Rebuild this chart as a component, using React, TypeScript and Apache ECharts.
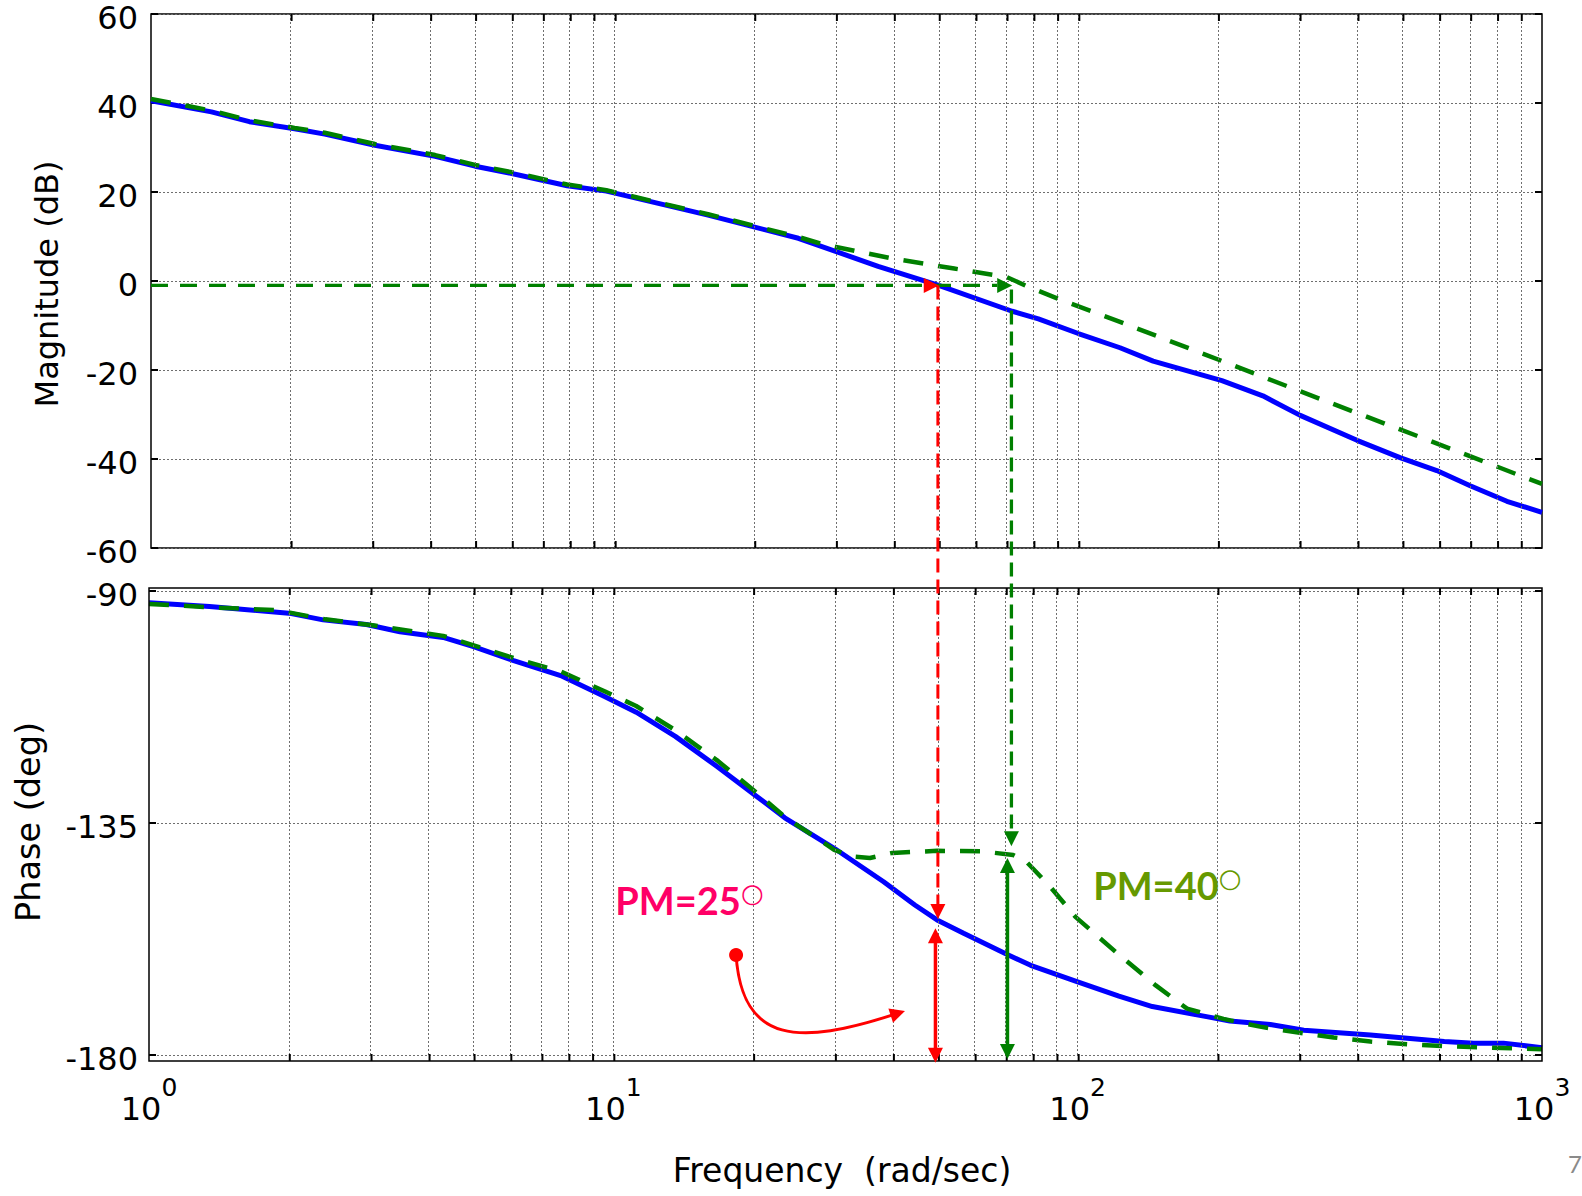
import React, { useEffect, useRef } from "react";
import * as echarts from "echarts";

const FONT = "'DejaVu Sans', 'Liberation Sans', Arial, sans-serif";
const PM_FONT = "Lato, 'Open Sans', sans-serif";

// ---- axes ----
const FREQ_MIN = 1;
const FREQ_MAX = 1000;
const FREQ_GRID = [2, 3, 4, 5, 6, 7, 8, 9, 10, 20, 30, 40, 50, 60, 70, 80, 90, 100, 200, 300, 400, 500, 600, 700, 800, 900];
const MAG_MIN = -60;
const MAG_MAX = 60;
const MAG_STEP = 20;
const PHASE_MIN = -180;
const PHASE_MAX = -90;
const PHASE_STEP = 45;

// ---- data: [frequency rad/s, value] ----
const magUncompensated: [number, number][] = [
  [1, 40.5], [1.35, 38.0], [1.63, 35.8], [2.04, 34.2], [2.37, 33.0], [3.04, 30.5], [4.1, 28.0],
  [5.0, 25.8], [6.1, 24.0], [7.9, 21.4], [9.6, 20.2], [15.9, 14.8], [24.9, 9.6], [37, 3.3],
  [50, -1.0], [72, -6.8], [82, -8.5], [100, -11.8], [123, -15.0], [145, -18.0], [204, -22.4],
  [250, -25.8], [301, -30.2], [399, -35.8], [494, -39.7], [593, -42.6], [700, -46.0], [840, -49.5],
  [1000, -52.0],
];
const magCompensated: [number, number][] = [
  [1, 40.9], [1.35, 38.3], [1.63, 36.1], [2.04, 34.4], [2.37, 33.3], [3.04, 30.8], [4.1, 28.3],
  [5.0, 26.1], [6.1, 24.3], [7.9, 21.7], [9.6, 20.4], [15.9, 15.0], [24.9, 9.9], [28, 8.3],
  [40, 5.0], [54, 2.8], [70, 0.9], [78, -1.3], [92, -4.3], [123, -9.2], [175, -15.3], [288, -24.0],
  [346, -27.2], [476, -32.7], [747, -40.5], [926, -44.3], [1000, -45.6],
];
const phaseUncompensated: [number, number][] = [
  [1, -92.3], [1.35, -93.0], [2.0, -94.3], [2.37, -95.6], [2.94, -96.5], [3.47, -97.9], [4.3, -99.0],
  [5.0, -100.8], [6.1, -103.5], [7.7, -106.4], [9.6, -110.5], [11.2, -113.5], [13.6, -118.2],
  [16.7, -124.0], [20.4, -129.9], [23.4, -134.0], [29.9, -139.9], [38.2, -146.4], [44.6, -150.9],
  [49.8, -153.8], [56.8, -156.4], [70.9, -160.6], [79.2, -162.6], [100, -165.8], [122.7, -168.6],
  [144.8, -170.6], [190.7, -172.6], [212.8, -173.4], [260, -174.1], [307, -175.2], [427, -176.1],
  [616, -177.4], [713, -177.7], [826, -177.7], [1000, -178.6],
];
const phaseCompensated: [number, number][] = [
  [1, -92.5], [1.38, -93.2], [1.88, -93.7], [2.4, -95.5], [3.0, -96.6], [4.3, -98.7], [6.1, -103.0],
  [7.7, -105.6], [9.6, -109.5], [11.2, -112.3], [13.6, -117.0], [16.7, -122.8], [20.4, -129.2],
  [23.4, -133.8], [29.9, -140.2], [32.7, -141.5], [35.7, -141.8], [39.9, -140.8], [49.8, -140.4],
  [62.1, -140.5], [72.6, -141.2], [77.5, -142.5], [86.6, -147.0], [98.9, -153.2], [120.7, -160.0],
  [147.3, -166.5], [172, -171.0], [206, -173.0], [247, -174.5], [296, -175.6], [356, -176.6],
  [427, -177.4], [513, -177.9], [616, -178.3], [740, -178.5], [1000, -178.9],
];

// ---- annotations (data coordinates) ----
const CROSSOVER_DB = -1;
const WC_UNCOMP = 50;
const WC_COMP = 72;
const PHASE_AT_WC_UNCOMP = -153.6;
const PHASE_AT_WC_COMP = -139.5;
const PM_BAR_UNCOMP = { w: 49.4, top: -155.4, bottom: -181.5 };
const PM_BAR_COMP = { w: 70.6, top: -141.8, bottom: -180.8 };
const CURVE_ARROW: [number, number][] = [[18.38, -160.6], [18.92, -178.05], [25.27, -178.05], [42.47, -171.46]];
const PM_LABELS = [
  { text: "PM=25", w: 10.1, deg: -149.9, color: "#FF0066" },
  { text: "PM=40", w: 108, deg: -147.0, color: "#669900" },
];

const BLUE = "#0000FF";
const GREEN = "#008000";
const RED = "#FF0000";
const GRID_LINE = { type: [2, 2] as number[], color: "#6f6f6f", width: 1 };
const TICK_STYLE = { color: "#000", width: 2 };

export default function App() {
  const ref = useRef<HTMLDivElement>(null);

  useEffect(() => {
    const chart = echarts.init(ref.current!, null, { renderer: "svg" });

    const gridMarkLine = {
      silent: true,
      symbol: "none",
      label: { show: false },
      lineStyle: GRID_LINE,
      data: FREQ_GRID.map((f) => ({ xAxis: f })),
    };

    const tickSeries = (idx: number, yTop: number, yBottom: number, topOff: number, botOff: number) => ({
      name: `ticks-${idx}`,
      type: "custom",
      xAxisIndex: idx,
      yAxisIndex: idx * 2,
      silent: true,
      clip: false,
      z: 6,
      data: FREQ_GRID.map((f) => [f]),
      renderItem: (_p: any, api: any) => {
        const t = api.coord([api.value(0), yTop]);
        const b = api.coord([api.value(0), yBottom]);
        return {
          type: "group",
          children: [
            { type: "line", shape: { x1: t[0] + 1, y1: t[1] - topOff, x2: t[0] + 1, y2: t[1] - topOff + 7 }, style: { stroke: "#000", lineWidth: 2 } },
            { type: "line", shape: { x1: b[0] + 1, y1: b[1] + botOff, x2: b[0] + 1, y2: b[1] + botOff - 7 }, style: { stroke: "#000", lineWidth: 2 } },
          ],
        };
      },
    });

    const rightAxis = (grid: number, min: number, max: number, step: number) => ({
      type: "value", gridIndex: grid, position: "right", min, max, interval: step,
      axisLine: { show: false }, axisLabel: { show: false }, splitLine: { show: false },
      axisTick: { show: true, inside: true, length: 7, lineStyle: TICK_STYLE },
    });

    const option: any = {
      animation: false,
      backgroundColor: "#ffffff",
      textStyle: { fontFamily: FONT },
      grid: [
        { left: 151, right: 40, top: 14, height: 534, show: true, borderColor: "#000", borderWidth: 1.5, backgroundColor: "transparent" },
        { left: 149, right: 40, top: 591, height: 464, show: false },
      ],
      xAxis: [
        {
          type: "log", logBase: 10, min: FREQ_MIN, max: FREQ_MAX, gridIndex: 0,
          axisLine: { show: false }, axisTick: { show: false }, axisLabel: { show: false }, splitLine: { show: false },
        },
        {
          type: "log", logBase: 10, min: FREQ_MIN, max: FREQ_MAX, gridIndex: 1,
          axisLine: { show: false }, axisTick: { show: false }, splitLine: { show: false },
          axisLabel: {
            margin: 20,
            showMinLabel: true,
            showMaxLabel: true,
            formatter: (v: number) => `{b|10}{s|${Math.round(Math.log10(v))}}`,
            rich: {
              b: { fontSize: 32, fontFamily: FONT, color: "#000", lineHeight: 50, verticalAlign: "bottom" },
              s: { fontSize: 25, fontFamily: FONT, color: "#000", lineHeight: 30, verticalAlign: "top" },
            },
          },
        },
      ],
      yAxis: [
        {
          type: "value", gridIndex: 0, min: MAG_MIN, max: MAG_MAX, interval: MAG_STEP,
          axisLine: { show: false },
          axisTick: { show: true, inside: true, length: 7, lineStyle: TICK_STYLE },
          axisLabel: { margin: 13, fontSize: 32, color: "#000", fontFamily: FONT, verticalAlign: "top", lineHeight: 8 },
          splitLine: { show: true, lineStyle: GRID_LINE },
        },
        rightAxis(0, MAG_MIN, MAG_MAX, MAG_STEP),
        {
          type: "value", gridIndex: 1, min: PHASE_MIN, max: PHASE_MAX, interval: PHASE_STEP,
          axisLine: { show: false },
          axisTick: { show: true, inside: true, length: 7, lineStyle: TICK_STYLE },
          axisLabel: { margin: 11, fontSize: 32, color: "#000", fontFamily: FONT, verticalAlign: "top", lineHeight: 8 },
          splitLine: { show: true, lineStyle: GRID_LINE },
        },
        rightAxis(1, PHASE_MIN, PHASE_MAX, PHASE_STEP),
      ],
      series: [
        { name: "grid-top", type: "line", xAxisIndex: 0, yAxisIndex: 0, data: [], z: 1, silent: true, markLine: gridMarkLine },
        { name: "grid-bottom", type: "line", xAxisIndex: 1, yAxisIndex: 2, data: [], z: 1, silent: true, markLine: gridMarkLine },
        tickSeries(0, MAG_MAX, MAG_MIN, 0, 0),
        tickSeries(1, PHASE_MAX, PHASE_MIN, 3, 6),
        {
          name: "Magnitude (uncompensated)", type: "line", xAxisIndex: 0, yAxisIndex: 0, data: magUncompensated,
          showSymbol: false, symbol: "none", lineStyle: { color: BLUE, width: 5 }, z: 3,
        },
        {
          name: "Magnitude (compensated)", type: "line", xAxisIndex: 0, yAxisIndex: 0, data: magCompensated,
          showSymbol: false, symbol: "none", lineStyle: { color: GREEN, width: 4.5, type: [20, 15] }, z: 4,
        },
        {
          name: "Phase (uncompensated)", type: "line", xAxisIndex: 1, yAxisIndex: 2, data: phaseUncompensated,
          showSymbol: false, symbol: "none", lineStyle: { color: BLUE, width: 5 }, z: 3,
        },
        {
          name: "Phase (compensated)", type: "line", xAxisIndex: 1, yAxisIndex: 2, data: phaseCompensated,
          showSymbol: false, symbol: "none", lineStyle: { color: GREEN, width: 4.5, type: [20, 15] }, z: 4,
        },
      ],
    };
    chart.setOption(option);

    const g0 = (w: number, v: number) => chart.convertToPixel({ gridIndex: 0 }, [w, v]) as number[];
    const g1 = (w: number, v: number) => chart.convertToPixel({ gridIndex: 1 }, [w, v]) as number[];

    const HEAD_LEN = 15;
    const HEAD_HALF = 7.5;
    const line = (a: number[], b: number[], color: string, width: number, dash?: number[]) => ({
      type: "line", z: 10, silent: true,
      shape: { x1: a[0], y1: a[1], x2: b[0], y2: b[1] },
      style: { stroke: color, lineWidth: width, lineDash: dash || null },
    });
    const head = (tip: number[], from: number[], color: string) => {
      const dx = tip[0] - from[0];
      const dy = tip[1] - from[1];
      const d = Math.hypot(dx, dy) || 1;
      const ux = dx / d, uy = dy / d;
      const bx = tip[0] - ux * HEAD_LEN, by = tip[1] - uy * HEAD_LEN;
      return {
        type: "polygon", z: 11, silent: true,
        shape: { points: [[tip[0], tip[1]], [bx - uy * HEAD_HALF, by + ux * HEAD_HALF], [bx + uy * HEAD_HALF, by - ux * HEAD_HALF]] },
        style: { fill: color },
      };
    };
    const back = (tip: number[], from: number[], len: number) => {
      const dx = tip[0] - from[0], dy = tip[1] - from[1];
      const d = Math.hypot(dx, dy) || 1;
      return [tip[0] - (dx / d) * len, tip[1] - (dy / d) * len];
    };

    const els: any[] = [];

    // bottom frame
    const bTL = g1(FREQ_MIN, PHASE_MAX);
    const bBR = g1(FREQ_MAX, PHASE_MIN);
    els.push({
      type: "rect", z: 5, silent: true,
      shape: { x: bTL[0], y: bTL[1] - 3, width: bBR[0] - bTL[0], height: bBR[1] - bTL[1] + 9 },
      style: { fill: "none", stroke: "#000", lineWidth: 1.5 },
    });

    // horizontal crossover line (0 dB level)
    const hStart = g0(FREQ_MIN, CROSSOVER_DB);
    const hEnd = g0(WC_COMP, CROSSOVER_DB);
    els.push(line(hStart, back(hEnd, hStart, HEAD_LEN), GREEN, 3.3, [17, 12]));
    els.push(head(hEnd, hStart, GREEN));
    const rTip = g0(WC_UNCOMP, CROSSOVER_DB);
    els.push(head(rTip, hStart, RED));

    // vertical dashed drop lines
    const rBot = g1(WC_UNCOMP, PHASE_AT_WC_UNCOMP);
    const rTop = [rBot[0], rTip[1]];
    els.push(line(rTop, back([rBot[0], rBot[1]], rTop, HEAD_LEN), RED, 3, [14, 7]));
    els.push(head(rBot, rTop, RED));

    const gBot = g1(WC_COMP, PHASE_AT_WC_COMP);
    const gTop = [gBot[0], hEnd[1] + 4];
    els.push(line(gTop, back(gBot, gTop, HEAD_LEN), GREEN, 3.3, [14, 7]));
    els.push(head(gBot, gTop, GREEN));

    // phase margin double arrows
    const pmBars = [
      { bar: PM_BAR_UNCOMP, color: RED },
      { bar: PM_BAR_COMP, color: GREEN },
    ];
    pmBars.forEach(({ bar, color }) => {
      const a = g1(bar.w, bar.top);
      const b = g1(bar.w, bar.bottom);
      els.push(line(back(a, b, HEAD_LEN - 2), back(b, a, HEAD_LEN - 2), color, 3.5));
      els.push(head(a, b, color));
      els.push(head(b, a, color));
    });

    // curved pointer arrow
    const c = CURVE_ARROW.map(([w, d]) => g1(w, d));
    const cEnd = back(c[3], c[2], HEAD_LEN - 3);
    els.push({
      type: "bezierCurve", z: 10, silent: true,
      shape: { x1: c[0][0], y1: c[0][1], cpx1: c[1][0], cpy1: c[1][1], cpx2: c[2][0], cpy2: c[2][1], x2: cEnd[0], y2: cEnd[1] },
      style: { stroke: RED, lineWidth: 3, fill: "none" },
    });
    els.push(head(c[3], c[2], RED));
    els.push({ type: "circle", z: 11, silent: true, shape: { cx: c[0][0], cy: c[0][1], r: 7 }, style: { fill: RED } });

    // PM labels
    PM_LABELS.forEach((l) => {
      const p = g1(l.w, l.deg);
      els.push({
        type: "text", z: 12, silent: true, x: p[0], y: p[1],
        style: {
          text: `{a|${l.text}}{d|○}`,
          align: "left", textAlign: "left", verticalAlign: "middle", textVerticalAlign: "middle",
          rich: {
            a: { fontSize: 38, fontWeight: "bold", fontFamily: PM_FONT, fill: l.color, color: l.color, lineHeight: 40 },
            d: { fontSize: 26, fontFamily: FONT, fill: l.color, color: l.color, lineHeight: 16, verticalAlign: "top" },
          },
        },
      });
    });

    // axis titles
    const title = (text: string, x: number, y: number, rot: number, size: number, color = "#000", fam = FONT, align = "center") => ({
      type: "text", z: 12, silent: true, x, y, rotation: rot,
      style: { text, fill: color, fontSize: size, fontFamily: fam, align, textAlign: align, verticalAlign: "middle", textVerticalAlign: "middle" },
    });
    els.push(title("Magnitude (dB)", 47, 284, Math.PI / 2, 32));
    els.push(title("Phase (deg)", 28, 822, Math.PI / 2, 33.5));
    els.push(title("Frequency  (rad/sec)", 842, 1170, 0, 33));
    els.push(title("7", 1568, 1163, 0, 24, "#8a8a8a", PM_FONT, "left"));

    chart.setOption({ graphic: { elements: els } });

    return () => chart.dispose();
  }, []);

  return (
    <div
      ref={ref}
      style={{ position: "absolute", left: 0, top: 0, width: 1582, height: 1196, background: "#fff" }}
    />
  );
}
